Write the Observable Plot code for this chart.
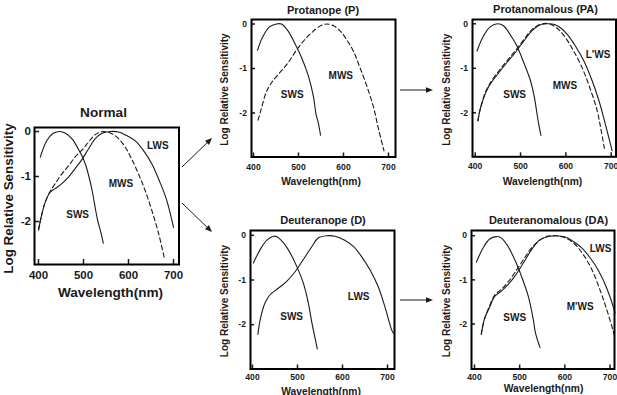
<!DOCTYPE html>
<html><head><meta charset="utf-8">
<script src="https://cdn.jsdelivr.net/npm/d3@7"></script>
<script src="https://cdn.jsdelivr.net/npm/@observablehq/plot@0.6"></script>
<style>
html,body{margin:0;padding:0;background:#fff;}
#fig{position:relative;width:617px;height:395px;overflow:hidden;background:#fff;}
#fig svg{position:absolute;overflow:visible;background:transparent;}
</style></head><body><div id="fig"></div>
<script>
// ---------------- DATA (wavelength nm, log relative sensitivity) ----------------
const xTicks = [400, 500, 600, 700];
const yTicks = [0, -1, -2];

const normalSWS = [[404,-0.57],[418,-0.21],[433,-0.04],[447,0],[460,-0.04],[475,-0.17],[489,-0.4],[497,-0.55],[505,-0.75],[512,-1.0],[520,-1.35],[527,-1.75],[532,-2.0],[538,-2.22],[544,-2.48]];
const normalMWS = [[400,-2.19],[406,-1.9],[415,-1.57],[426,-1.33],[437,-1.16],[452,-0.94],[467,-0.76],[481,-0.57],[496,-0.42],[511,-0.24],[526,-0.07],[544,0],[563,-0.05],[578,-0.16],[593,-0.35],[607,-0.61],[622,-0.94],[637,-1.31],[652,-1.76],[667,-2.27],[680,-2.83]];
const normalLWS = [[400,-2.19],[406,-1.9],[415,-1.57],[426,-1.35],[437,-1.27],[452,-1.16],[467,-1.01],[481,-0.83],[496,-0.63],[511,-0.39],[526,-0.16],[541,-0.04],[559,0],[578,-0.01],[596,-0.09],[615,-0.21],[633,-0.42],[652,-0.72],[670,-1.13],[685,-1.53],[700,-2.13]];

const protSWS = [[409,-0.59],[420,-0.3],[435,-0.07],[451,0],[462,0],[477,-0.16],[492,-0.44],[507,-0.76],[522,-1.17],[533,-1.62],[539,-2.03],[544,-2.22],[549,-2.5]];
const protMWS = [[410,-2.16],[417,-1.92],[428,-1.54],[440,-1.32],[458,-1.1],[477,-0.87],[496,-0.58],[514,-0.35],[533,-0.16],[551,-0.03],[563,0],[578,-0.04],[593,-0.16],[607,-0.35],[622,-0.61],[637,-0.99],[652,-1.4],[667,-1.88],[678,-2.37],[690,-2.85]];

const protanomSWS = [[404,-0.61],[418,-0.28],[433,-0.07],[450,0],[463,-0.05],[477,-0.24],[492,-0.5],[507,-0.87],[522,-1.28],[530,-1.62],[536,-2.0],[540,-2.25],[545,-2.51]];
const protanomMWS = [[406,-2.18],[411,-1.92],[422,-1.55],[433,-1.33],[452,-1.06],[470,-0.83],[488,-0.61],[507,-0.36],[525,-0.13],[547,0],[566,-0.01],[584,-0.13],[599,-0.31],[617,-0.61],[636,-0.99],[654,-1.47],[669,-1.95],[677,-2.35],[685,-2.8]];
const protanomLpWS = [[406,-2.18],[411,-1.92],[422,-1.58],[433,-1.36],[452,-1.1],[470,-0.87],[488,-0.65],[507,-0.39],[525,-0.16],[540,-0.04],[558,0],[573,-0.01],[588,-0.09],[603,-0.24],[621,-0.5],[640,-0.84],[658,-1.28],[673,-1.73],[687,-2.25],[702,-2.85]];

const deutSWS = [[402,-0.62],[417,-0.32],[432,-0.11],[447,-0.02],[454,-0.03],[469,-0.17],[484,-0.4],[498,-0.69],[513,-1.07],[524,-1.51],[532,-1.96],[539,-2.3],[544,-2.54]];
const deutLWS = [[412,-2.22],[417,-1.89],[428,-1.51],[439,-1.33],[458,-1.18],[476,-1.03],[495,-0.81],[513,-0.54],[532,-0.25],[546,-0.06],[565,-0.01],[583,-0.02],[605,-0.11],[624,-0.25],[642,-0.47],[661,-0.77],[679,-1.14],[694,-1.59],[709,-2.11],[713,-2.19]];

const deutanomSWS = [[404,-0.6],[419,-0.28],[433,-0.08],[448,-0.02],[459,-0.05],[474,-0.24],[489,-0.54],[504,-0.92],[519,-1.37],[530,-1.89],[535,-2.2],[545,-2.53]];
const deutanomMpWS = [[415,-2.23],[422,-1.89],[433,-1.6],[445,-1.34],[459,-1.22],[474,-1.05],[489,-0.84],[508,-0.55],[526,-0.28],[556,-0.03],[578,0],[601,-0.05],[623,-0.2],[641,-0.43],[660,-0.77],[679,-1.26],[694,-1.71],[706,-2.12],[711,-2.3]];
const deutanomLWS = [[415,-2.23],[422,-1.89],[433,-1.63],[445,-1.37],[459,-1.26],[474,-1.11],[489,-0.92],[508,-0.62],[526,-0.32],[545,-0.09],[564,-0.02],[582,0],[601,-0.03],[619,-0.13],[638,-0.28],[656,-0.5],[675,-0.8],[694,-1.22],[709,-1.67],[711,-1.75]];

// curve name labels (text, nm, log)
const normalLabels = [["LWS",665,-0.32],["MWS",583,-1.17],["SWS",487,-1.84]];
const protLabels = [["MWS",594,-1.16],["SWS",486,-1.59]];
const protanomLabels = [["L'WS",671,-0.69],["MWS",598,-1.39],["SWS",487,-1.59]];
const deutLabels = [["LWS",636,-1.38],["SWS",487,-1.83]];
const deutanomLabels = [["LWS",679,-0.3],["M'WS",634,-1.62],["SWS",489,-1.85]];

const titles = ["Normal","Protanope (P)","Protanomalous (PA)","Deuteranope (D)","Deuteranomalous (DA)"];
const yLabel = "Log Relative Sensitivity";
const xLabel = "Wavelength(nm)";

// ---------------- LAYOUT (page pixels) ----------------
const FONT = "'Liberation Sans', Arial, Helvetica, sans-serif";
const INK = "#1a1a1a";
const panels = [
  {title: titles[0], curves: [[normalSWS,false],[normalMWS,true],[normalLWS,false]], labels: normalLabels,
   frame:[34,127,178.5,264], t400:38, t700:173, t0:131, tm2:221,
   tickFont:11.5, xPad:6.5, yPad:3.5, tickLen:5, labelFont:10,
   titleFont:13.6, titleC:[103,112.5], yLabFont:13.4, yLabC:[8,198], xLabFont:13.6, xLabC:[110,291.7]},
  {title: titles[1], curves: [[protSWS,false],[protMWS,true]], labels: protLabels,
   frame:[250.5,18.5,394.5,156], t400:252.5, t700:387.5, t0:23, tm2:112,
   tickFont:8.6, xPad:6.5, yPad:4.5, tickLen:4, labelFont:10,
   titleFont:11, titleC:[322,9], yLabFont:10, yLabC:[224,88.5], xLabFont:10.3, xLabC:[320,180.5]},
  {title: titles[2], curves: [[protanomSWS,false],[protanomMWS,true],[protanomLpWS,false]], labels: protanomLabels,
   frame:[472,18.7,615.5,156], t400:474.7, t700:610.7, t0:23, tm2:112,
   tickFont:8.6, xPad:6.5, yPad:4.5, tickLen:4, labelFont:10,
   titleFont:11, titleC:[545,9], yLabFont:10, yLabC:[446,89], xLabFont:10.3, xLabC:[542,181.3]},
  {title: titles[3], curves: [[deutSWS,false],[deutLWS,false]], labels: deutLabels,
   frame:[249.5,229.5,393.5,368], t400:251.5, t700:386.5, t0:234.3, tm2:323.7,
   tickFont:8.6, xPad:4.5, yPad:4.5, tickLen:4, labelFont:10,
   titleFont:11, titleC:[322,219], yLabFont:10, yLabC:[224,300], xLabFont:10.3, xLabC:[320,390.5]},
  {title: titles[4], curves: [[deutanomSWS,false],[deutanomMpWS,true],[deutanomLWS,false]], labels: deutanomLabels,
   frame:[471,229.5,614,368], t400:474, t700:609.5, t0:234.7, tm2:323,
   tickFont:8.6, xPad:4.5, yPad:4.5, tickLen:4, labelFont:10,
   titleFont:11, titleC:[548,219.5], yLabFont:10, yLabC:[446,300], xLabFont:10.3, xLabC:[543,388]}
];
const arrows = [[182,167,212,138],[182,203,212,232],[400,90,433,90],[400,300,433,300]];

// ---------------- DRAW ----------------
const fig = document.getElementById("fig");
const toRows = arr => arr.map(([nm, v]) => ({nm, v}));

for (const p of panels) {
  const [x0, y0, x1, y1] = p.frame;
  const fw = x1 - x0, fh = y1 - y0;
  const m = {top: 32, right: 8, bottom: 34, left: 36};
  const kx = (p.t700 - p.t400) / 300;
  const ky = (p.tm2 - p.t0) / 2;
  const xDomain = [400 - (p.t400 - x0) / kx, 400 + (x1 - p.t400) / kx];
  const yDomain = [-(y1 - p.t0) / ky, (p.t0 - y0) / ky];
  const cx = (x0 + x1) / 2, cy = (y0 + y1) / 2;

  const marks = [
    Plot.ruleX(xTicks, {x: d => d, insetTop: fh - p.tickLen, stroke: INK, strokeWidth: 1.5}),
    Plot.ruleY(yTicks, {y: d => d, insetRight: fw - p.tickLen, stroke: INK, strokeWidth: 1.5}),
    Plot.axisX({ticks: xTicks, tickSize: 0, tickPadding: p.xPad, fontSize: p.tickFont, label: null, tickFormat: d => String(d), fill: INK}),
    Plot.axisY({ticks: yTicks, tickSize: 0, tickPadding: p.yPad, fontSize: p.tickFont, label: null, tickFormat: d => String(d), fill: INK})
  ];
  for (const [c, dashed] of p.curves) {
    marks.push(Plot.line(toRows(c), {x: "nm", y: "v", curve: "catmull-rom", stroke: INK, strokeWidth: 1.1,
      strokeDasharray: dashed ? "4.5,3" : null}));
  }
  marks.push(
    Plot.text(p.labels, {x: d => d[1], y: d => d[2], text: d => d[0], fontSize: p.labelFont, fontWeight: "bold", fill: INK}),
    Plot.text([p.title], {text: d => d, frameAnchor: "top", dx: p.titleC[0] - cx, dy: p.titleC[1] - y0,
      fontSize: p.titleFont, fontWeight: "bold", textAnchor: "middle", lineAnchor: "middle", fill: INK}),
    Plot.text([yLabel], {text: d => d, frameAnchor: "left", rotate: -90, dx: p.yLabC[0] - x0, dy: p.yLabC[1] - cy,
      fontSize: p.yLabFont, fontWeight: "bold", textAnchor: "middle", lineAnchor: "middle", fill: INK}),
    Plot.text([xLabel], {text: d => d, frameAnchor: "bottom", dx: p.xLabC[0] - cx, dy: p.xLabC[1] - y1,
      fontSize: p.xLabFont, fontWeight: "bold", textAnchor: "middle", lineAnchor: "middle", fill: INK}),
    Plot.frame({stroke: "#000", strokeWidth: 2})
  );

  const svg = Plot.plot({
    width: fw + m.left + m.right,
    height: fh + m.top + m.bottom,
    marginTop: m.top, marginRight: m.right, marginBottom: m.bottom, marginLeft: m.left,
    x: {domain: xDomain},
    y: {domain: yDomain},
    style: {fontFamily: FONT, fontWeight: "bold", background: "transparent", color: INK, overflow: "visible"},
    marks
  });
  svg.style.left = (x0 - m.left) + "px";
  svg.style.top = (y0 - m.top) + "px";
  fig.appendChild(svg);
}

// connector arrows
const ov = d3.create("svg").attr("width", 617).attr("height", 395).style("left", "0px").style("top", "0px");
for (const [ax, ay, bx, by] of arrows) {
  const ang = Math.atan2(by - ay, bx - ax), L = 7, W = 2.8;
  const hx = bx - L * Math.cos(ang), hy = by - L * Math.sin(ang);
  ov.append("line").attr("x1", ax).attr("y1", ay).attr("x2", hx).attr("y2", hy).attr("stroke", INK).attr("stroke-width", 1);
  const px = -Math.sin(ang) * W, py = Math.cos(ang) * W;
  ov.append("polygon").attr("points", `${bx},${by} ${hx + px},${hy + py} ${hx - px},${hy - py}`).attr("fill", INK);
}
fig.appendChild(ov.node());
</script></body></html>
